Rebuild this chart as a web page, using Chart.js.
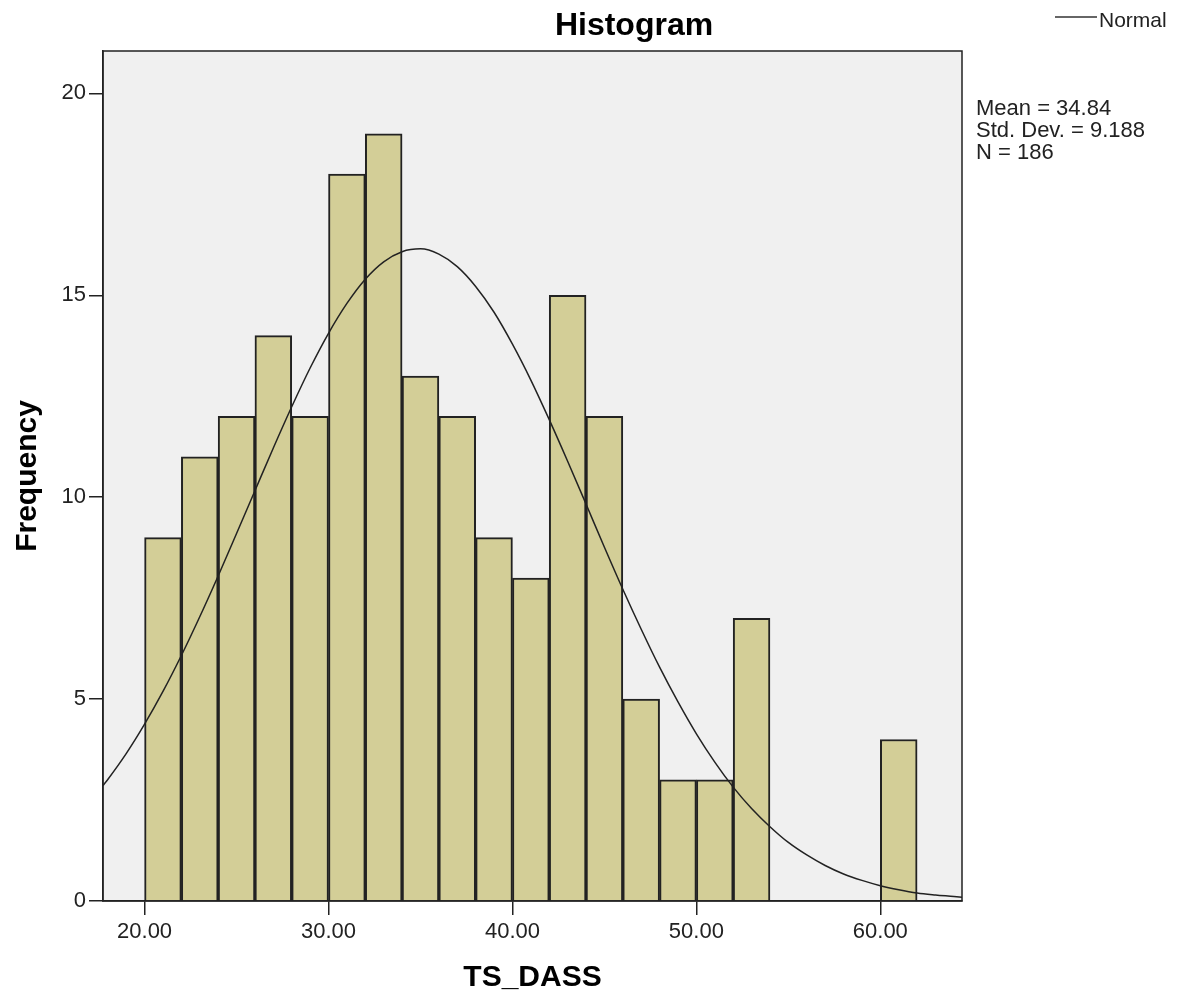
<!DOCTYPE html>
<html>
<head>
<meta charset="utf-8">
<script src="https://cdn.jsdelivr.net/npm/chart.js@4/dist/chart.umd.min.js"></script>
<style>
html,body{margin:0;padding:0;background:#fff;}
#wrap{position:relative;width:1181px;height:1003px;}
</style>
</head>
<body>
<div id="wrap"><canvas id="c" width="1181" height="1003"></canvas></div>
<script>
// Bin centres (bin width 2, from 20 to 62) and frequencies
const binCenters = [21,23,25,27,29,31,33,35,37,39,41,43,45,47,49,51,53,55,57,59,61];
const frequencies = [9,11,12,14,12,18,19,13,12,9,8,15,12,5,3,3,7,0,0,0,4];
// Normal curve
const curveX = [17.74,18,19,20,21,22,23,24,25,26,27,28,29,30,31,32,33,34,35,36,37,38,39,40,41,42,43,44,45,46,47,48,49,50,51,52,53,54,55,56,57,58,59,60,61,62,63,64,64.44];
const curveY = [2.86,3.01,3.65,4.38,5.19,6.08,7.04,8.05,9.10,10.16,11.22,12.24,13.20,14.06,14.80,15.40,15.83,16.08,16.15,16.02,15.71,15.22,14.58,13.79,12.90,11.92,10.89,9.83,8.76,7.72,6.73,5.79,4.93,4.14,3.44,2.82,2.29,1.84,1.45,1.14,0.88,0.67,0.51,0.38,0.28,0.20,0.15,0.11,0.09];
const xTicks = [20,30,40,50,60];
const yTicks = [0,5,10,15,20];
const statsLines = ["Mean = 34.84","Std. Dev. = 9.188","N = 186"];
const titleText = "Histogram";
const legendText = "Normal";

const FONT = "'Liberation Sans', Arial, sans-serif";

const decor = {
  id: 'decor',
  beforeDraw(chart) {
    const {ctx, chartArea: a} = chart;
    ctx.save();
    ctx.fillStyle = '#F0F0F0';
    ctx.fillRect(a.left, a.top, a.right - a.left, a.bottom - a.top);
    ctx.restore();
  },
  afterDraw(chart) {
    const {ctx, chartArea: a} = chart;
    ctx.save();
    ctx.strokeStyle = '#222';
    ctx.lineWidth = 1.5;
    ctx.strokeRect(a.left, a.top, a.right - a.left, a.bottom - a.top);
    // title
    ctx.fillStyle = '#000';
    ctx.font = 'bold 32px ' + FONT;
    ctx.textAlign = 'center';
    ctx.textBaseline = 'alphabetic';
    ctx.fillText(titleText, 634, 35);
    // legend
    ctx.strokeStyle = '#333';
    ctx.lineWidth = 1.5;
    ctx.beginPath();
    ctx.moveTo(1055, 17);
    ctx.lineTo(1097, 17);
    ctx.stroke();
    ctx.fillStyle = '#222';
    ctx.font = '21px ' + FONT;
    ctx.textAlign = 'left';
    ctx.fillText(legendText, 1099, 27);
    // stats
    ctx.font = '22px ' + FONT;
    statsLines.forEach((t, i) => ctx.fillText(t, 976, 115 + i * 22));
    ctx.restore();
  }
};

new Chart(document.getElementById('c'), {
  type: 'bar',
  data: {
    datasets: [
      {
        type: 'line',
        label: legendText,
        data: curveX.map((x, i) => ({x: x, y: curveY[i]})),
        borderColor: '#222',
        borderWidth: 1.5,
        pointRadius: 0,
        fill: false,
        cubicInterpolationMode: 'monotone',
        order: 0
      },
      {
        type: 'bar',
        label: 'Frequency',
        data: binCenters.map((x, i) => ({x: x, y: frequencies[i]})),
        backgroundColor: '#D3CE97',
        borderColor: '#222',
        borderWidth: 2,
        barPercentage: 1,
        categoryPercentage: 1,
        order: 1
      }
    ]
  },
  options: {
    responsive: false,
    animation: false,
    events: [],
    layout: {padding: {left: 0, top: 51, right: 219, bottom: 0}},
    plugins: {legend: {display: false}, title: {display: false}, tooltip: {enabled: false}},
    scales: {
      x: {
        type: 'linear',
        min: 17.74,
        max: 64.44,
        offset: false,
        afterFit(s) { s.height = 102; },
        afterBuildTicks(s) { s.ticks = xTicks.map(v => ({value: v})); },
        grid: {display: true, offset: false, drawOnChartArea: false, drawTicks: true, tickLength: 14, color: '#222', lineWidth: 1.5},
        border: {display: true, color: '#222', width: 1.5},
        ticks: {
          font: {family: FONT, size: 22},
          color: '#222',
          padding: 4,
          maxRotation: 0,
          callback: v => Number(v).toFixed(2)
        },
        title: {display: true, text: 'TS_DASS', font: {family: FONT, size: 30, weight: 'bold'}, color: '#000', padding: {top: 0, bottom: 7}}
      },
      y: {
        type: 'linear',
        min: 0,
        max: 21.05,
        afterFit(s) { s.width = 103; },
        afterBuildTicks(s) { s.ticks = yTicks.map(v => ({value: v})); },
        grid: {display: true, drawOnChartArea: false, drawTicks: true, tickLength: 14, color: '#222', lineWidth: 1.5},
        border: {display: true, color: '#222', width: 1.5},
        ticks: {font: {family: FONT, size: 22}, color: '#222', padding: 3},
        title: {display: true, text: 'Frequency', font: {family: FONT, size: 30, weight: 'bold'}, color: '#000', padding: {top: 10, bottom: 0}}
      }
    }
  },
  plugins: [decor]
});
</script>
</body>
</html>
